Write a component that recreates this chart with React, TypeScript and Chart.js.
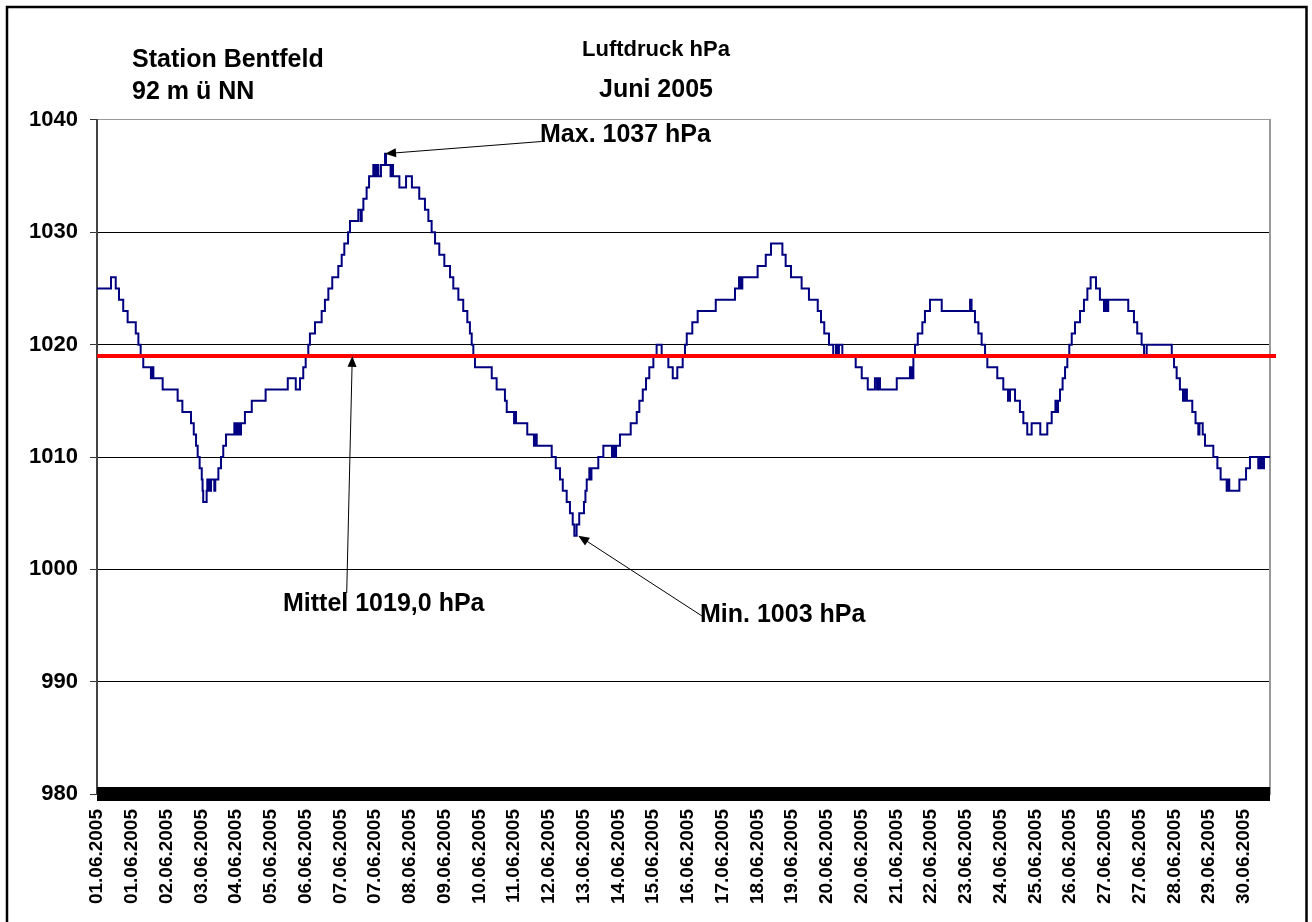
import React, { useEffect, useRef } from 'react';
import { Chart, registerables } from 'chart.js';

Chart.register(...registerables);

const FONT = '"Liberation Sans", Arial, Helvetica, sans-serif';

// x tick labels (shown at regular intervals along the time axis)
const xTickLabels = [
  '01.06.2005', '01.06.2005', '02.06.2005', '03.06.2005', '04.06.2005', '05.06.2005',
  '06.06.2005', '07.06.2005', '07.06.2005', '08.06.2005', '09.06.2005', '10.06.2005',
  '11.06.2005', '12.06.2005', '13.06.2005', '14.06.2005', '15.06.2005', '16.06.2005',
  '17.06.2005', '18.06.2005', '19.06.2005', '20.06.2005', '20.06.2005', '21.06.2005',
  '22.06.2005', '23.06.2005', '24.06.2005', '25.06.2005', '26.06.2005', '27.06.2005',
  '27.06.2005', '28.06.2005', '29.06.2005', '30.06.2005',
];

// hours since 01.06.2005 00:00 at which the (stepped) reading changes
const pressureHours = [
  0, 8.6, 11.5, 13.5, 16.1, 18.8, 23.8, 25.4, 26.8, 28.4,
  33.1, 33.9, 34.6, 40.3, 49.5, 52.4, 57.7, 59.4, 60.8, 61.8,
  63.0, 64.3, 64.8, 65.2, 67.3, 67.7, 68.9, 70.0, 72.0, 72.6,
  74.5, 76.1, 77.5, 79.2, 84.3, 85.5, 86.7, 87.6, 88.4, 90.8,
  95.0, 103.5, 117.1, 122.0, 124.6, 126.6, 128.1, 129.7, 130.7, 133.8,
  137.9, 139.9, 142.0, 144.4, 148.1, 150.2, 151.8, 154.1, 155.3, 160.4,
  161.9, 162.5, 163.5, 165.5, 167.0, 169.6, 170.6, 171.7, 172.7, 174.3,
  176.8, 177.4, 180.2, 180.8, 181.7, 185.6, 189.7, 193.3, 197.8, 201.3,
  203.4, 205.4, 207.5, 210.1, 213.2, 216.7, 218.7, 221.8, 224.8, 227.3,
  228.9, 230.0, 231.0, 232.0, 242.3, 245.3, 250.4, 251.5, 256.0, 256.6,
  257.2, 264.1, 268.2, 268.8, 269.9, 279.1, 281.6, 284.2, 285.9, 288.3,
  290.3, 292.0, 293.0, 294.4, 296.0, 298.9, 299.8, 300.6, 302.2, 302.9,
  303.5, 307.7, 310.8, 316.1, 317.0, 318.0, 318.6, 321.0, 327.6, 331.3,
  332.9, 335.0, 337.0, 339.0, 341.5, 343.5, 346.6, 350.7, 353.4, 356.2,
  359.5, 360.9, 362.0, 365.4, 368.7, 379.8, 391.6, 394.1, 395.0, 396.1,
  405.5, 410.5, 413.7, 420.7, 422.7, 426.0, 432.5, 437.0, 442.4, 444.4,
  446.4, 449.3, 451.9, 453.6, 454.5, 455.4, 457.5, 465.7, 469.4, 473.1,
  477.5, 478.8, 479.7, 480.6, 490.9, 499.0, 499.9, 501.1, 502.1, 503.8,
  506.6, 508.2, 511.3, 518.5, 535.9, 536.8, 538.9, 541.0, 543.0, 545.1,
  546.5, 552.6, 556.3, 559.2, 560.4, 563.5, 566.5, 568.6, 571.0, 573.7,
  579.0, 583.3, 586.0, 588.3, 589.2, 589.9, 591.1, 592.7, 594.2, 595.6,
  596.8, 598.3, 600.3, 603.4, 605.8, 607.9, 609.9, 613.2, 615.6, 618.1,
  619.3, 619.9, 620.7, 633.0, 636.5, 638.5, 641.2, 642.7, 644.3, 659.7,
  661.1, 662.7, 664.7, 666.6, 667.8, 669.0, 672.3, 674.3, 676.0, 676.7,
  678.7, 680.1, 685.2, 687.7, 689.7, 693.4, 694.2, 695.0, 701.2, 705.3,
  707.7, 712.8, 713.9, 715.1, 716.3, 720,
];

// air pressure in hPa, valid from the matching hour onward
const pressureValues = [
  1025, 1026, 1025, 1024, 1023, 1022, 1021, 1020, 1019, 1018,
  1017, 1018, 1017, 1016, 1015, 1014, 1013, 1012, 1011, 1010,
  1009, 1008, 1007, 1006, 1007, 1008, 1007, 1008, 1007, 1008,
  1009, 1010, 1011, 1012, 1013, 1012, 1013, 1012, 1013, 1014,
  1015, 1016, 1017, 1016, 1017, 1018, 1019, 1020, 1021, 1022,
  1023, 1024, 1025, 1026, 1027, 1028, 1029, 1030, 1031, 1032,
  1031, 1032, 1033, 1034, 1035, 1036, 1035, 1036, 1035, 1036,
  1037, 1036, 1035, 1036, 1035, 1034, 1035, 1034, 1033, 1032,
  1031, 1030, 1029, 1028, 1027, 1026, 1025, 1024, 1023, 1022,
  1021, 1020, 1019, 1018, 1017, 1016, 1015, 1014, 1013, 1014,
  1013, 1012, 1011, 1012, 1011, 1010, 1009, 1008, 1007, 1006,
  1005, 1004, 1003, 1004, 1005, 1006, 1007, 1008, 1009, 1008,
  1009, 1010, 1011, 1010, 1011, 1010, 1011, 1012, 1013, 1014,
  1015, 1016, 1017, 1018, 1019, 1020, 1019, 1018, 1017, 1018,
  1019, 1020, 1021, 1022, 1023, 1024, 1025, 1026, 1025, 1026,
  1027, 1028, 1029, 1028, 1027, 1026, 1025, 1024, 1023, 1022,
  1021, 1020, 1019, 1020, 1019, 1020, 1019, 1018, 1017, 1016,
  1017, 1016, 1017, 1016, 1017, 1018, 1017, 1019, 1020, 1021,
  1022, 1023, 1024, 1023, 1024, 1023, 1022, 1021, 1020, 1019,
  1018, 1017, 1016, 1015, 1016, 1015, 1014, 1013, 1012, 1013,
  1012, 1013, 1014, 1015, 1014, 1015, 1016, 1017, 1018, 1019,
  1020, 1021, 1022, 1023, 1024, 1025, 1026, 1025, 1024, 1023,
  1024, 1023, 1024, 1023, 1022, 1021, 1020, 1019, 1020, 1019,
  1018, 1017, 1016, 1015, 1016, 1015, 1014, 1013, 1012, 1013,
  1012, 1011, 1010, 1009, 1008, 1007, 1008, 1007, 1008, 1009,
  1010, 1009, 1010, 1009, 1010, 1010,
];

// monthly mean (red line)
const meanValue = 1019.0;
const meanHours = [0, 723.7];

// y axis
const yMin = 980;
const yMax = 1040;
const yStep = 10;
const xMaxHours = 720;
const labelSpan = 33.75; // label intervals across the axis

// annotations: text, text position, arrow tail, arrow target (hour, hPa)
const annotations = [
  { text: 'Max. 1037 hPa', tx: 540, ty: 142, from: [541.5, 141.5], at: [176.8, 1037] },
  { text: 'Mittel 1019,0 hPa', tx: 283, ty: 611, from: [346.7, 593], at: [156.7, 1019] },
  { text: 'Min. 1003 hPa', tx: 700, ty: 622, from: [702, 616], at: [295.4, 1003] },
];
const stationLines = ['Station Bentfeld', '92 m ü NN'];

const decorPlugin = {
  id: 'decor',
  beforeDraw(chart: any) {
    const { ctx, width, height } = chart;
    ctx.save();
    ctx.fillStyle = '#ffffff';
    ctx.fillRect(0, 0, width, height);
    ctx.restore();
  },
  afterDraw(chart: any) {
    const { ctx, chartArea } = chart;
    const xs = chart.scales.x;
    const ys = chart.scales.y;
    ctx.save();
    // dense hourly tick band along the category axis
    const yb = ys.getPixelForValue(yMin);
    ctx.fillStyle = '#000000';
    ctx.fillRect(chartArea.left, yb - 7, chartArea.right - chartArea.left, 14);

    // station text
    ctx.fillStyle = '#000000';
    ctx.font = `bold 25px ${FONT}`;
    ctx.textAlign = 'left';
    ctx.textBaseline = 'alphabetic';
    ctx.fillText(stationLines[0], 132, 67);
    ctx.fillText(stationLines[1], 132, 99);

    // annotations with arrows
    annotations.forEach((a) => {
      ctx.font = `bold 25px ${FONT}`;
      ctx.fillText(a.text, a.tx, a.ty);
      const tipX = xs.getPixelForValue(a.at[0]);
      const tipY = ys.getPixelForValue(a.at[1]);
      const [fx, fy] = a.from;
      const ang = Math.atan2(tipY - fy, tipX - fx);
      ctx.strokeStyle = '#000000';
      ctx.lineWidth = 1;
      ctx.beginPath();
      ctx.moveTo(fx, fy);
      ctx.lineTo(tipX - Math.cos(ang) * 8, tipY - Math.sin(ang) * 8);
      ctx.stroke();
      const len = 11;
      const hw = 4.5;
      ctx.beginPath();
      ctx.moveTo(tipX, tipY);
      ctx.lineTo(tipX - Math.cos(ang) * len - Math.sin(ang) * hw, tipY - Math.sin(ang) * len + Math.cos(ang) * hw);
      ctx.lineTo(tipX - Math.cos(ang) * len + Math.sin(ang) * hw, tipY - Math.sin(ang) * len - Math.cos(ang) * hw);
      ctx.closePath();
      ctx.fill();
    });

    // outer frame
    ctx.strokeStyle = '#000000';
    ctx.lineWidth = 2.5;
    ctx.strokeRect(7, 7, 1299.5, 1000);
    ctx.restore();
  },
};

export default function App() {
  const ref = useRef<HTMLCanvasElement>(null);

  useEffect(() => {
    const canvas = ref.current;
    if (!canvas) return;
    Chart.defaults.font.family = FONT;
    const chart = new Chart(canvas, {
      type: 'line',
      data: {
        datasets: [
          {
            label: 'Mittel',
            data: meanHours.map((h) => ({ x: h, y: meanValue })),
            borderColor: '#FF0000',
            borderWidth: 4,
            pointRadius: 0,
            clip: false as any,
            order: 0,
          },
          {
            label: 'Luftdruck hPa',
            data: pressureHours.map((h, i) => ({ x: h, y: pressureValues[i] })),
            borderColor: '#000080',
            borderWidth: 2,
            pointRadius: 0,
            stepped: true,
            order: 1,
          },
        ],
      },
      options: {
        responsive: false,
        animation: false,
        events: [],
        layout: { padding: { top: 10, left: 20, right: 20, bottom: 0 } },
        plugins: {
          legend: { display: false },
          tooltip: { enabled: false },
          title: {
            display: true,
            text: 'Luftdruck hPa',
            color: '#000000',
            font: { family: FONT, size: 22, weight: 'bold' },
            padding: { top: 26.8, bottom: 6 },
          },
          subtitle: {
            display: true,
            text: 'Juni 2005',
            color: '#000000',
            font: { family: FONT, size: 25, weight: 'bold' },
            padding: { top: 5.8, bottom: 15 },
          },
        },
        scales: {
          x: {
            type: 'linear',
            min: 0,
            max: xMaxHours,
            afterBuildTicks: (scale: any) => {
              scale.ticks = xTickLabels.map((_, k) => ({ value: (k * xMaxHours) / labelSpan }));
            },
            afterFit: (scale: any) => {
              scale.height = 128;
            },
            grid: { display: false, drawTicks: false, drawOnChartArea: false },
            border: { display: false },
            ticks: {
              autoSkip: false,
              minRotation: 90,
              maxRotation: 90,
              padding: 15,
              color: '#000000',
              font: { family: FONT, size: 19, weight: 'bold' },
              callback: (_v: any, i: number) => xTickLabels[i] ?? '',
            },
          },
          y: {
            min: yMin,
            max: yMax,
            afterFit: (scale: any) => {
              scale.width = 77;
            },
            ticks: {
              stepSize: yStep,
              padding: 12,
              color: '#000000',
              font: { family: FONT, size: 22, weight: 'bold' },
              callback: (v: any) => String(v),
            },
            grid: {
              color: (c: any) => (c.tick && c.tick.value === yMax ? '#999999' : '#000000'),
              tickColor: '#333333',
              lineWidth: 1,
              tickLength: 7,
              drawTicks: true,
            },
            border: { display: true, color: '#444444', width: 2 },
          },
          yRight: {
            position: 'right',
            min: yMin,
            max: yMax,
            afterFit: (scale: any) => {
              scale.width = 22;
            },
            ticks: { display: false },
            grid: { display: false, drawTicks: false },
            border: { display: true, color: '#999999', width: 2 },
          },
        },
      },
      plugins: [decorPlugin],
    });
    return () => chart.destroy();
  }, []);

  return (
    <div style={{ position: 'absolute', left: 0, top: 0, width: 1312, height: 922 }}>
      <canvas ref={ref} width={1312} height={922} style={{ display: 'block', width: 1312, height: 922 }} />
    </div>
  );
}
